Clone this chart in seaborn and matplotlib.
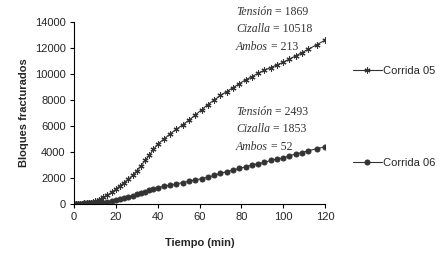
import numpy as np
import pandas as pd
import seaborn as sns
import matplotlib
matplotlib.use("Agg")
import matplotlib.pyplot as plt

# tiempos de muestreo (min)
tiempo = [0, 1, 2, 3, 4, 5, 6, 7, 8, 9, 10, 11, 12, 13, 14, 16, 18, 20, 22, 24, 26, 28,
          30, 32, 34, 36, 38, 40, 43, 46, 49, 52, 55, 58, 61, 64, 67, 70, 73, 76, 79,
          82, 85, 88, 91, 94, 97, 100, 103, 106, 109, 112, 116, 120]

# bloques fracturados acumulados
corrida_05 = [0, 0, 10, 20, 30, 40, 60, 80, 110, 150, 200, 260, 330, 420, 510, 700, 900,
              1150, 1400, 1650, 1900, 2200, 2550, 2950, 3350, 3750, 4200, 4600, 5000,
              5400, 5750, 6100, 6450, 6850, 7250, 7650, 8000, 8350, 8650, 8950, 9250,
              9550, 9800, 10050, 10300, 10500, 10700, 10900, 11150, 11400, 11650, 11900,
              12250, 12600]
corrida_06 = [0, 0, 10, 20, 30, 40, 40, 50, 50, 60, 60, 70, 80, 90, 100, 150, 200, 280,
              360, 450, 540, 640, 750, 850, 950, 1050, 1150, 1250, 1350, 1450, 1550, 1650,
              1750, 1850, 1950, 2050, 2200, 2350, 2500, 2600, 2750, 2850, 3000, 3100, 3200,
              3350, 3450, 3550, 3700, 3850, 3950, 4100, 4250, 4400]

notas_05 = [("Tensión", 1869), ("Cizalla", 10518), ("Ambos", 213)]
notas_06 = [("Tensión", 2493), ("Cizalla", 1853), ("Ambos", 52)]

sns.set_style("ticks")
plt.rcParams["font.family"] = ["Liberation Sans", "DejaVu Sans"]

W, H = 442, 261
fig = plt.figure(figsize=(W / 100, H / 100), dpi=100)
ax = fig.add_axes([74 / W, 1 - 204 / H, (325 - 74) / W, (204 - 22) / H])

df = pd.DataFrame({"t": tiempo, "c05": corrida_05, "c06": corrida_06})
col = "#333333"
sns.lineplot(data=df, x="t", y="c05", ax=ax, color=col, lw=0.8,
             marker=(6, 2, 0), markersize=4.3, markeredgewidth=0.8,
             markeredgecolor=col, label="Corrida 05")
sns.lineplot(data=df, x="t", y="c06", ax=ax, color=col, lw=0.8,
             marker="o", markersize=3.6, markeredgecolor=col,
             markerfacecolor=col, label="Corrida 06")

ax.set_xlim(0, 120)
ax.set_ylim(0, 14000)
ax.set_xticks(np.arange(0, 121, 20))
ax.set_yticks(np.arange(0, 14001, 2000))
ax.tick_params(labelsize=8, length=3, width=0.8, color="black", pad=3)
ax.set_xlabel("Tiempo (min)", fontsize=8, fontweight="bold", labelpad=11)
ax.set_ylabel("Bloques fracturados", fontsize=8, fontweight="bold", labelpad=4)
for s in ["left", "bottom"]:
    ax.spines[s].set_linewidth(0.8)
    ax.spines[s].set_color("black")
sns.despine(ax=ax)

ax.legend(loc="center left", bbox_to_anchor=(343 / W, 1 - 117 / H),
          bbox_transform=fig.transFigure, frameon=False, fontsize=8,
          handlelength=2.6, handletextpad=0.1, labelspacing=7.4)

# anotaciones: nombre en cursiva + " = valor"
for y0, notas in [(11.7, notas_05), (111.7, notas_06)]:
    for i, (nombre, val) in enumerate(notas):
        t1 = fig.text(236 / W, 1 - (y0 + i * 17.8) / H, nombre, fontsize=8.5,
                      family="Liberation Serif", style="italic", color="#333333",
                      ha="left", va="center")
        ax.annotate(" = " + str(val), xy=(1, 0.5), xycoords=t1, fontsize=8.5,
                    family="Liberation Serif", color="#333333",
                    ha="left", va="center", annotation_clip=False)

fig.savefig("out.png", dpi=100)
